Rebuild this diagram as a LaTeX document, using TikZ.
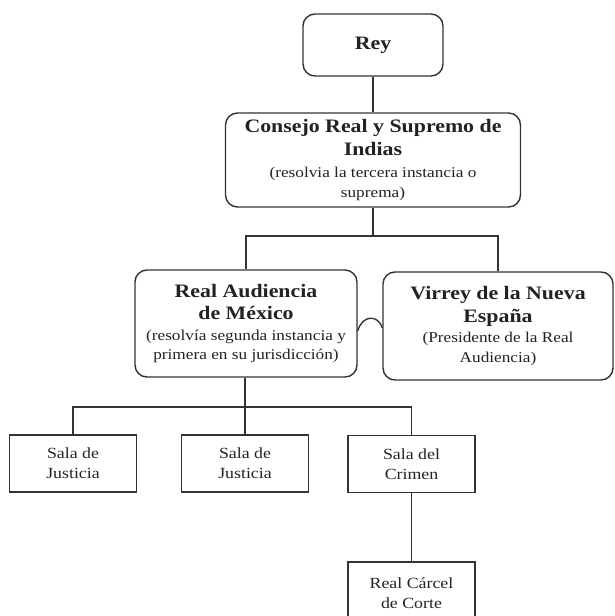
\documentclass[tikz,border=0pt]{standalone}
\usepackage{fontspec}
\setmainfont{Liberation Serif}[FakeStretch=1.15]
\definecolor{ink}{HTML}{222222}
\definecolor{edge}{HTML}{333333}
\tikzset{
  rbox/.style={draw=edge, line width=1.4pt, rounded corners=12pt, align=center, inner sep=2pt, text=ink,
     font=\fontsize{15}{19.5}\selectfont},
  sbox/.style={draw=edge, line width=1.4pt, align=center, inner sep=2pt, text=ink,
     minimum width=127pt, minimum height=57pt, font=\fontsize{15.5}{20}\selectfont},
  link/.style={draw=edge, line width=1.4pt},
}
\newcommand{\ttl}{\fontsize{19}{19.5}\selectfont\bfseries}
\newcommand{\sml}{\fontsize{15}{19.5}\selectfont\mdseries}
\begin{document}
\begin{tikzpicture}[x=1pt,y=-1pt]
\useasboundingbox (0,0) rectangle (615,616);
\clip (0,0) rectangle (615,616);
\node[rbox, minimum width=140pt, minimum height=62pt] (rey) at (373,45) {\ttl Rey};
\node[rbox, minimum width=295pt, minimum height=94pt] (consejo) at (373,160)
  {\ttl Consejo Real y Supremo de\\[3pt]\ttl Indias\\[3pt]\sml (resolvia la tercera instancia o\\\sml suprema)};
\node[rbox, minimum width=222pt, minimum height=107pt] (ra) at (246,323.5)
  {\ttl Real Audiencia\\[3pt]\ttl de México\\[1pt]\sml (resolvía segunda instancia y\\\sml primera en su jurisdicción)};
\node[rbox, minimum width=230pt, minimum height=108pt] (virrey) at (498,326)
  {\ttl Virrey de la Nueva\\[3pt]\ttl España\\[1pt]\sml (Presidente de la Real\\\sml Audiencia)};
\node[sbox] (s1) at (73,463.5) {Sala de\\Justicia};
\node[sbox] (s2) at (245,463.5) {Sala de\\Justicia};
\node[sbox] (s3) at (411.5,464) {Sala del\\Crimen};
\node[sbox, minimum height=62pt] (carcel) at (411.5,593) {Real Cárcel\\de Corte};
\coordinate (j1) at (373,236);
\coordinate (j2) at (245,407);
\draw[link] (rey.south) -- (rey.south |- consejo.north);
\draw[link] (consejo.south -| j1) -- (j1);
\draw[link] (ra.north) |- (j1) -| (virrey.north);
\draw[link] (ra.south -| j2) -- (j2);
\draw[link] (s1.north) |- (j2) -| (s3.north);
\draw[link] (s2.north) -- (s2.north |- j2);
\draw[link] (s3.south) -- (carcel.north);
\draw[link] (ra.east |- 0,331) .. controls (362,315) and (378,314) .. (virrey.west |- 0,328);
\end{tikzpicture}
\end{document}
